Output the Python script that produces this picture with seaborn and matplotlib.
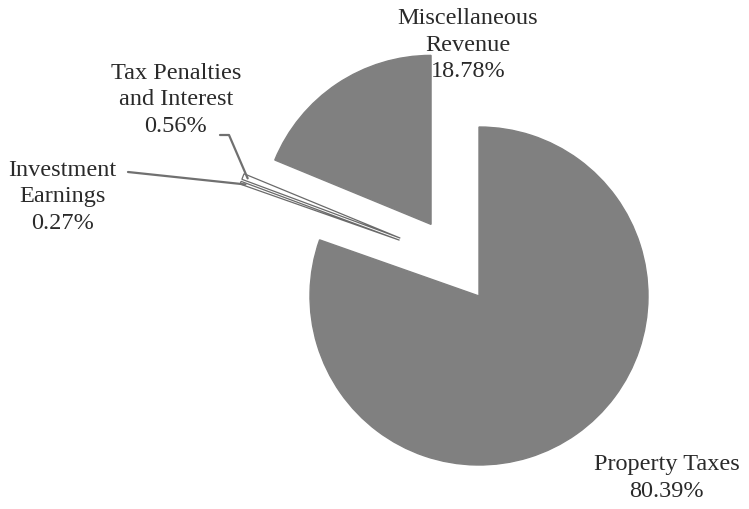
import matplotlib
matplotlib.use("Agg")
import matplotlib.pyplot as plt
import seaborn as sns
import numpy as np

# revenue sources, clockwise from 12 o'clock
sources = ["Property Taxes", "Investment\nEarnings", "Tax Penalties\nand Interest", "Miscellaneous\nRevenue"]
shares = [80.39, 0.27, 0.56, 18.78]
explode = [0.0, 0.5, 0.5, 0.51]

sns.set_theme(style="white")
plt.rcParams['font.family'] = ['Liberation Serif', 'DejaVu Serif']

fig = plt.figure(figsize=(7.49, 5.10), dpi=100)
ax = fig.add_axes([0, 0, 1, 1])

gray = "#808080"
wedges, _ = ax.pie(shares, explode=explode, startangle=90, counterclock=False,
                   colors=[gray, "white", "white", gray], radius=1.0)
wedges[0].set_edgecolor(gray)
wedges[3].set_edgecolor(gray)
for w in wedges[1:3]:
    w.set_edgecolor("#6a6a6a")
    w.set_linewidth(0.9)
    cx, cy = w.center
    w.set_center((cx, cy + 0.16))

ax.set_xlim(-479 / 169, (749 - 479) / 169)
ax.set_ylim(-(510 - 297) / 169, 297 / 169)
ax.set_aspect("equal")
ax.axis("off")

txt = dict(fontsize=17.5, color="#2a2a2a", ha="center", va="center", linespacing=1.35)
ax.text(-0.065, 1.49, f"{sources[3]}\n{shares[3]:.2f}%", **txt)
ax.text(-1.793, 1.166, f"{sources[2]}\n{shares[2]:.2f}%", **txt)
ax.text(-2.467, 0.592, f"{sources[1]}\n{shares[1]:.2f}%", **txt)
ax.text(1.112, -1.071, f"{sources[0]}\n{shares[0]:.2f}%", **txt)


def edge_point(w, r=0.95):
    ang = np.deg2rad((w.theta1 + w.theta2) / 2)
    cx, cy = w.center
    return cx + r * w.r * np.cos(ang), cy + r * w.r * np.sin(ang)


# leader lines
px, py = edge_point(wedges[1], 0.97)
ax.plot([(128 - 479) / 169, px], [(297 - 173) / 169, py], color="#707070", lw=1.6)
px, py = edge_point(wedges[2], 0.97)
ax.plot([(220 - 479) / 169, (229 - 479) / 169, px],
        [(297 - 136) / 169, (297 - 136) / 169, py], color="#707070", lw=1.6)

fig.savefig("out.png", dpi=100, facecolor="white")
